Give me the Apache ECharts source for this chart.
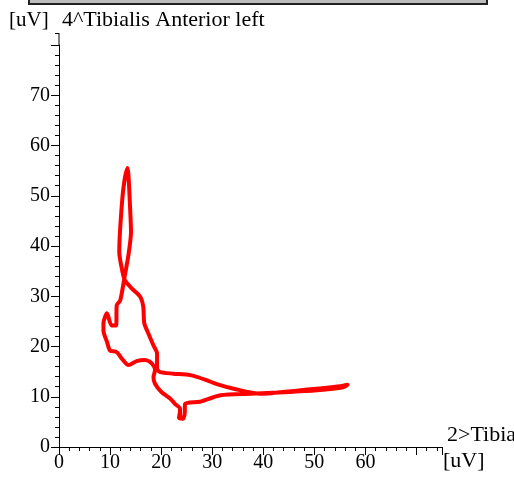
<!DOCTYPE html>
<html>
<head>
<meta charset="utf-8">
<script src="https://cdn.jsdelivr.net/npm/echarts@6/dist/echarts.min.js"></script>
<style>html,body{margin:0;padding:0;background:#fff}#c{width:514px;height:494px}</style>
</head>
<body>
<div id="c"></div>
<script>
// Trace of 2>Tibialis (x, uV) vs 4^Tibialis Anterior left (y, uV)
const xVals = [23.7, 23.5, 24.2, 24.6, 24.7, 27.6, 31.6, 37.5, 44.0, 50.5, 55.7, 56.5,
  55.1, 47.3, 39.4, 34.2, 30.9, 28.9, 25.7, 22.4, 19.8, 19.2,
  19.2, 18.5, 17.5, 16.7, 16.5, 15.9, 14.3, 12.9,
  12.3, 11.8, 12.0, 12.6, 13.4,
  13.6, 13.9, 14.1, 13.6, 12.9, 12.0, 11.3, 11.2, 10.3, 9.4, 8.7, 8.7, 9.4, 10.0, 11.3, 12.3, 13.6, 15.2, 16.9, 18.2, 18.8,
  18.5, 18.8, 20.1, 21.8, 22.7, 23.7, 23.7];
const yVals = [7.0, 5.8, 5.6, 6.5, 8.6, 9.0, 10.3, 10.6, 10.9, 11.3, 11.9, 12.4,
  12.1, 11.3, 10.6, 11.6, 12.5, 13.3, 14.3, 14.6, 14.9, 15.6,
  18.6, 20.2, 22.6, 24.6, 27.9, 29.9, 31.5, 33.2,
  35.5, 38.8, 43.8, 51.4, 55.5,
  54.1, 48.1, 42.8, 38.2, 34.2, 29.2, 28.2, 24.2, 24.2, 26.6, 24.6, 23.2, 20.9, 19.2, 18.9, 17.6, 16.3, 17.1, 17.3, 16.6, 15.3,
  13.9, 12.6, 10.9, 9.6, 8.6, 7.6, 6.0];
const xTicks = [0, 10, 20, 30, 40, 50, 60];
const yTicks = [0, 10, 20, 30, 40, 50, 60, 70];
const titleUnit = '[uV]';
const titleText = '4^Tibialis Anterior left';
const xName = '2>Tibialis';
const xUnit = '[uV]';

const pts = xVals.map((x, i) => [x, yVals[i]]);
const font = 'Liberation Serif';
const chart = echarts.init(document.getElementById('c'));
const axisCommon = {
  type: 'value',
  axisLine: { show: true, onZero: false, lineStyle: { color: '#000', width: 1 } },
  axisTick: { show: true, length: 8, lineStyle: { color: '#000' } },
  minorTick: { show: true, splitNumber: 5, length: 4, lineStyle: { color: '#000' } },
  splitLine: { show: false },
  minorSplitLine: { show: false }
};
chart.setOption({
  animation: false,
  grid: { left: 59, right: 72, top: 45, bottom: 47 },
  xAxis: Object.assign({}, axisCommon, {
    min: 0, max: 75, interval: 10,
    axisLabel: { fontFamily: font, fontSize: 20, color: '#000', margin: 6,
      formatter: v => xTicks.indexOf(v) >= 0 ? String(v) : '' }
  }),
  yAxis: Object.assign({}, axisCommon, {
    min: 0, max: 80, interval: 10,
    axisLabel: { fontFamily: font, fontSize: 20, color: '#000', margin: 9,
      formatter: v => yTicks.indexOf(v) >= 0 ? String(v) : '' }
  }),
  graphic: [
    { type: 'rect', shape: { x: 29, y: -6, width: 458, height: 10 },
      style: { fill: '#bdbdbd', stroke: '#222', lineWidth: 2 } },
    { type: 'line', shape: { x1: 59, y1: 33, x2: 59, y2: 45 }, style: { stroke: '#000', lineWidth: 1 } },
    { type: 'line', shape: { x1: 55, y1: 33.5, x2: 59, y2: 33.5 }, style: { stroke: '#000', lineWidth: 1 } },
    { type: 'text', left: 9, top: 10, style: { text: titleUnit, font: '21px "Liberation Serif"', fill: '#000' } },
    { type: 'text', left: 62, top: 9, style: { text: titleText, font: '22px "Liberation Serif"', fill: '#000' } },
    { type: 'text', left: 447, top: 424, style: { text: xName, font: '22px "Liberation Serif"', fill: '#000' } },
    { type: 'text', left: 443, top: 450, style: { text: xUnit, font: '22px "Liberation Serif"', fill: '#000' } }
  ],
  series: [{
    type: 'line', data: pts, showSymbol: false, smooth: 0.25,
    lineStyle: { color: '#ff0000', width: 4, join: 'round', cap: 'round' }
  }]
});
</script>
</body>
</html>
